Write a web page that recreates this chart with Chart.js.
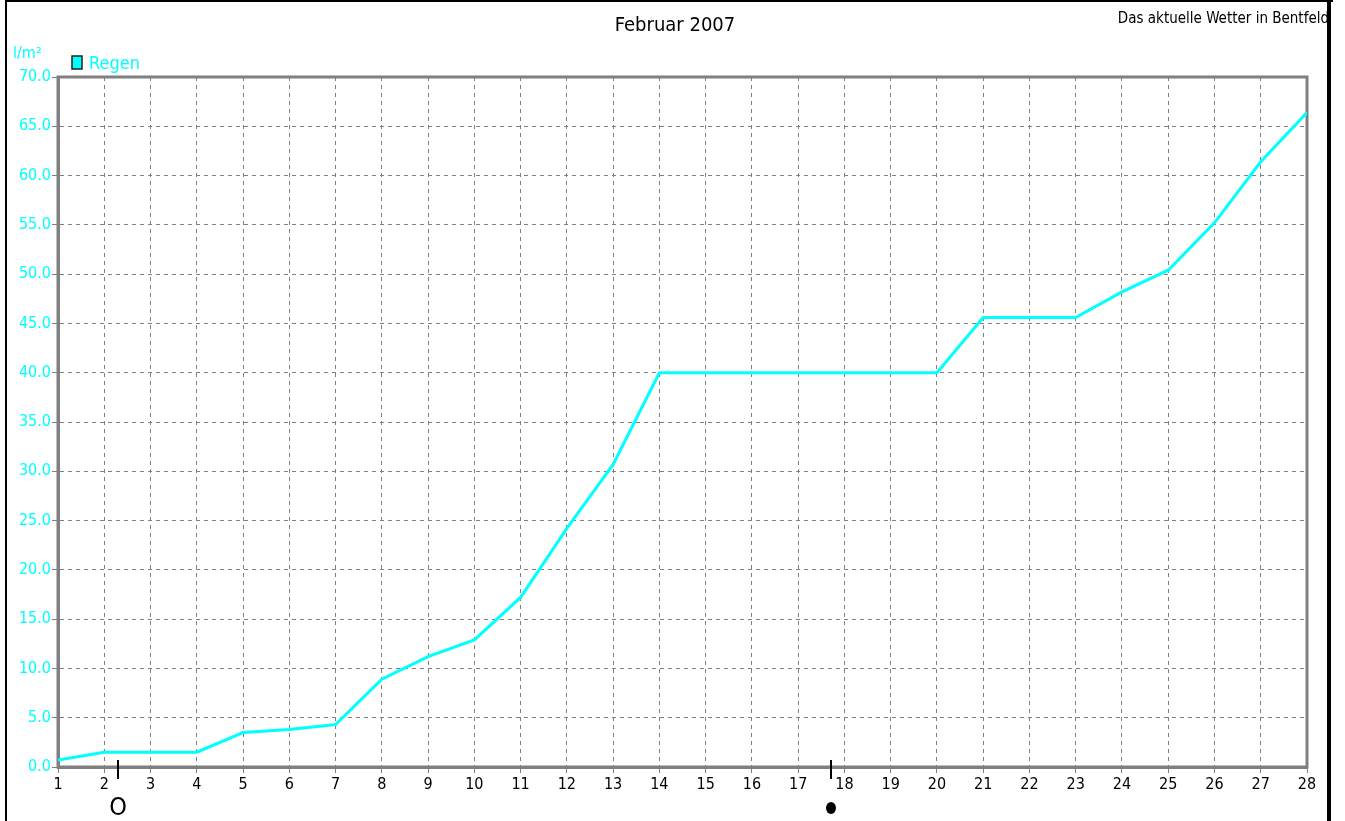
<!DOCTYPE html>
<html>
<head>
<meta charset="utf-8">
<script src="https://cdn.jsdelivr.net/npm/chart.js@4.4.1/dist/chart.umd.min.js"></script>
<style>
  html, body { margin: 0; padding: 0; background: #fff; }
  #wrap { position: relative; width: 1345px; height: 821px; }
</style>
</head>
<body>
<div id="wrap"><canvas id="regenChart" width="1345" height="821"></canvas></div>
<script>
// Tage im Februar und kumulierte Regenmenge (l/m²)
const days = [1, 2, 3, 4, 5, 6, 7, 8, 9, 10, 11, 12, 13, 14,
              15, 16, 17, 18, 19, 20, 21, 22, 23, 24, 25, 26, 27, 28]
const regen = [0.7, 1.5, 1.5, 1.5, 3.5, 3.8, 4.3, 8.9, 11.2, 12.9, 17.2, 24.2, 30.7, 40.0,
               40.0, 40.0, 40.0, 40.0, 40.0, 40.0, 45.6, 45.6, 45.6, 48.2, 50.4, 55.2, 61.4, 66.4]

// Mondphasen (Tag, gefüllt = Neumond)
const moonDays = [2.3, 17.7]
const moonFilled = [false, true]

const FONT = "'Liberation Sans Narrow', 'DejaVu Sans Condensed', Arial, sans-serif"
const CYAN = "#00ffff"
const GRID = "#808080"

// Rahmen, Titel, Legende und Mondsymbole
const decorations = {
  id: "decorations",
  beforeDraw(chart) {
    const { ctx, chartArea: a } = chart
    ctx.save()
    // plot frame (top / right)
    ctx.strokeStyle = GRID
    ctx.lineWidth = 3
    ctx.strokeRect(a.left, a.top, a.right - a.left, a.bottom - a.top)
    ctx.restore()
  },
  afterDraw(chart) {
    const { ctx, chartArea: a } = chart
    const x = chart.scales.x
    ctx.save()

    // title
    ctx.fillStyle = "#000"
    ctx.textAlign = "center"
    ctx.textBaseline = "middle"
    ctx.font = "20px " + FONT
    ctx.fillText("Februar 2007", 675, 26)

    ctx.textAlign = "right"
    ctx.font = "15px " + FONT
    ctx.fillText("Das aktuelle Wetter in Bentfeld", 1329, 19)

    // unit
    ctx.fillStyle = CYAN
    ctx.textAlign = "left"
    ctx.font = "16px " + FONT
    ctx.fillText("l/m²", 13, 54)

    // legend
    ctx.fillRect(72, 56, 10, 13)
    ctx.strokeStyle = "#222"
    ctx.lineWidth = 1.5
    ctx.strokeRect(72, 56, 10, 13)
    ctx.fillStyle = CYAN
    ctx.font = "18px " + FONT
    ctx.fillText("Regen", 89, 64)

    // moon phases
    moonDays.forEach((d, i) => {
      const px = Math.round(x.getPixelForValue(d))
      ctx.strokeStyle = "#000"
      ctx.lineWidth = 2
      ctx.beginPath()
      ctx.moveTo(px, a.bottom - 7)
      ctx.lineTo(px, a.bottom + 12)
      ctx.stroke()
      if (moonFilled[i]) {
        ctx.fillStyle = "#000"
        ctx.beginPath()
        ctx.ellipse(px, 808, 5, 6, 0, 0, Math.PI * 2)
        ctx.fill()
      } else {
        ctx.fillStyle = "#000"
        ctx.textAlign = "center"
        ctx.font = "25px " + FONT
        ctx.fillText("O", px, 808)
      }
    })

    // outer black frame
    ctx.fillStyle = "#000"
    ctx.fillRect(5, 0, 2, 821)
    ctx.fillRect(5, 0, 1328, 2)
    ctx.fillRect(1327, 0, 4, 821)
    ctx.restore()
  }
}

const ctx = document.getElementById("regenChart")

new Chart(ctx, {
  type: "line",
  data: {
    datasets: [{
      label: "Regen",
      data: days.map((d, i) => ({ x: d, y: regen[i] })),
      borderColor: CYAN,
      borderWidth: 3,
      pointRadius: 0,
      tension: 0
    }]
  },
  options: {
    responsive: false,
    animation: false,
    layout: { padding: { left: 0, top: 77, right: 38, bottom: 0 } },
    plugins: {
      legend: { display: false },
      tooltip: { enabled: false }
    },
    scales: {
      x: {
        type: "linear",
        min: 1,
        max: 28,
        afterFit: s => { s.height = 54 },
        ticks: {
          stepSize: 1,
          color: "#000",
          font: { family: FONT, size: 16 },
          padding: 2,
          maxRotation: 0,
          autoSkip: false
        },
        grid: {
          color: GRID,
          tickColor: GRID,
          tickLength: 6,
          lineWidth: 1
        },
        border: { color: GRID, width: 3, dash: [4, 4] }
      },
      y: {
        min: 0,
        max: 70,
        afterFit: s => { s.width = 58 },
        ticks: {
          stepSize: 5,
          color: CYAN,
          font: { family: FONT, size: 16 },
          padding: 1,
          callback: v => v.toFixed(1)
        },
        grid: {
          color: GRID,
          tickColor: GRID,
          tickLength: 6,
          lineWidth: 1
        },
        border: { color: GRID, width: 3, dash: [4, 4] }
      }
    }
  },
  plugins: [decorations]
})
</script>
</body>
</html>
